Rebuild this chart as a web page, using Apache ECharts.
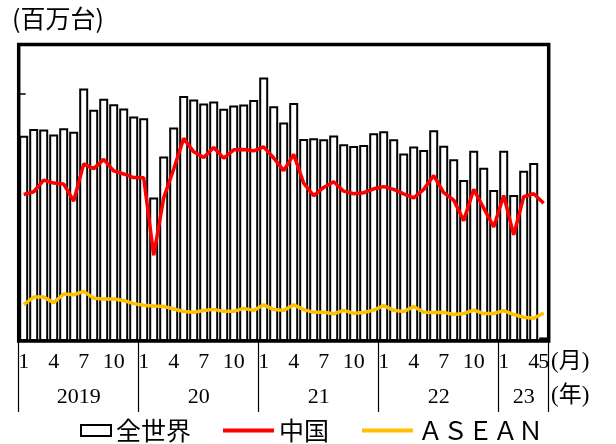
<!DOCTYPE html>
<html>
<head>
<meta charset="utf-8">
<script src="https://cdn.jsdelivr.net/npm/echarts@6/dist/echarts.min.js"></script>
<style>
  html, body { margin: 0; padding: 0; background: #fff; }
  #chart { width: 616px; height: 444px; }
</style>
</head>
<body>
<div id="chart"></div>
<script>
// Monthly production, 2019/1 – 2023/5 (百万台 scale, axis values unlabeled)
const yearLabels = ['2019', '20', '21', '22', '23'];
const monthsInYear = [12, 12, 12, 12, 5];
const shownMonths = [1, 4, 7, 10];

const world = [
  103.8, 107.3, 107.0, 104.5, 107.6, 105.8, 127.7, 117.0, 122.5, 119.8, 117.6, 113.6,
  112.7, 72.6, 93.4, 108.0, 123.9, 122.2, 120.1, 121.2, 117.5, 119.1, 119.6, 121.9,
  133.3, 118.8, 110.6, 120.4, 102.2, 102.6, 102.1, 104.0, 99.5, 98.6, 99.1, 105.1,
  106.1, 102.1, 94.9, 98.4, 96.6, 106.6, 98.8, 91.9, 81.4, 96.2, 87.7, 76.4,
  96.2, 73.8, 86.1, 90.0, 1.8
];
const china = [
  74.1, 75.5, 81.4, 79.9, 79.4, 70.8, 89.6, 87.2, 91.9, 86.1, 84.5, 82.7,
  82.6, 43.4, 72.4, 87.0, 102.5, 95.7, 92.8, 97.9, 92.5, 96.7, 96.9, 96.2,
  98.2, 92.6, 86.2, 94.4, 79.8, 73.5, 77.7, 80.6, 75.8, 74.5, 75.0, 77.0,
  78.1, 76.7, 74.4, 72.4, 76.7, 83.7, 75.1, 71.3, 60.9, 76.7, 67.2, 57.7,
  73.6, 53.7, 73.0, 74.5, 69.7
];
const asean = [
  18.4, 22.2, 22.2, 19.4, 23.8, 23.4, 25.1, 21.6, 21.3, 21.3, 20.5, 18.9,
  18.1, 17.7, 17.5, 16.2, 14.9, 14.5, 15.4, 16.0, 15.0, 15.0, 16.5, 15.5,
  18.3, 15.9, 15.5, 18.3, 15.9, 14.5, 14.5, 13.8, 15.5, 14.0, 14.4, 15.6,
  17.9, 15.5, 14.9, 17.4, 14.5, 14.4, 14.5, 13.4, 13.9, 15.6, 13.9, 13.9,
  15.4, 13.4, 12.0, 11.5, 14.2
];

// Build month categories and year spans
const categories = [];
const monthOf = [];
const yearBounds = [0];
const yearMids = [];
yearLabels.forEach((y, yi) => {
  const start = categories.length;
  for (let m = 1; m <= monthsInYear[yi]; m++) {
    categories.push(y + '/' + m);
    monthOf.push(m);
  }
  yearBounds.push(categories.length);
  yearMids.push((start + categories.length) / 2);
});
const lastIdx = categories.length - 1;

const serif = "'Liberation Serif', 'Noto Sans CJK JP', serif";
const cjk = "'Noto Sans CJK JP', sans-serif";

const chart = echarts.init(document.getElementById('chart'), null, { renderer: 'canvas' });

chart.setOption({
  animation: false,
  backgroundColor: '#fff',
  title: {
    text: '(百万台)',
    left: 12, top: 6, padding: 0,
    textStyle: { fontFamily: cjk, fontSize: 25, fontWeight: 'normal', color: '#000' }
  },
  grid: {
    left: 18.7, right: 67.3, top: 44.5, bottom: 103,
    show: true, borderColor: '#000', borderWidth: 3.5,
    backgroundColor: 'transparent',
    outerBoundsMode: 'none'
  },
  legend: [
    {
      data: [{ name: '全世界', icon: 'rect' }],
      left: 75, top: 413,
      itemWidth: 30, itemHeight: 11,
      selectedMode: false,
      textStyle: { fontFamily: cjk, fontSize: 25, color: '#000' }
    },
    {
      data: [{ name: '中国', icon: 'rect' }, { name: 'ＡＳＥＡＮ', icon: 'rect' }],
      left: 218, top: 413,
      itemWidth: 51, itemHeight: 4, itemGap: 33,
      selectedMode: false,
      textStyle: { fontFamily: cjk, fontSize: 25, color: '#000' }
    }
  ],
  xAxis: [
    {
      type: 'category',
      data: categories,
      axisLine: { show: false },
      axisTick: { show: false },
      axisLabel: {
        interval: 0,
        margin: 10,
        fontFamily: serif, fontSize: 22, color: '#000',
        formatter: (v, i) => (shownMonths.includes(monthOf[i]) || i === lastIdx) ? String(monthOf[i]) : ''
      }
    },
    {
      type: 'value',
      position: 'bottom',
      min: 0, max: categories.length,
      axisLine: { show: false },
      splitLine: { show: false },
      axisTick: {
        show: true, length: 71, customValues: yearBounds,
        lineStyle: { color: '#000', width: 1.2 }
      },
      axisLabel: {
        customValues: yearMids,
        margin: 45,
        fontFamily: serif, fontSize: 22, color: '#000',
        formatter: v => {
          const k = yearMids.indexOf(v);
          return k >= 0 ? yearLabels[k] : '';
        }
      }
    }
  ],
  yAxis: {
    type: 'value',
    min: 0, max: 150, interval: 25,
    axisLine: { show: false },
    axisLabel: { show: false },
    splitLine: { show: false },
    axisTick: { show: true, inside: true, length: 7, lineStyle: { color: '#000', width: 1.5 } }
  },
  graphic: [
    { type: 'text', left: 551, top: 350, style: { text: '(月)', font: "23px 'Liberation Serif', 'Noto Sans CJK JP', serif", fill: '#000' } },
    { type: 'text', left: 551, top: 384, style: { text: '(年)', font: "23px 'Liberation Serif', 'Noto Sans CJK JP', serif", fill: '#000' } }
  ],
  series: [
    {
      name: '全世界', type: 'bar', data: world,
      xAxisIndex: 0,
      barCategoryGap: '10%',
      itemStyle: { color: '#fff', borderColor: '#000', borderWidth: 2 }
    },
    {
      name: '中国', type: 'line', data: china,
      xAxisIndex: 0,
      symbol: 'none',
      lineStyle: { color: '#ff0000', width: 3.5 },
      itemStyle: { color: '#ff0000' }
    },
    {
      name: 'ＡＳＥＡＮ', type: 'line', data: asean,
      xAxisIndex: 0,
      symbol: 'none',
      lineStyle: { color: '#ffc000', width: 3.5 },
      itemStyle: { color: '#ffc000' }
    }
  ]
});
</script>
</body>
</html>
